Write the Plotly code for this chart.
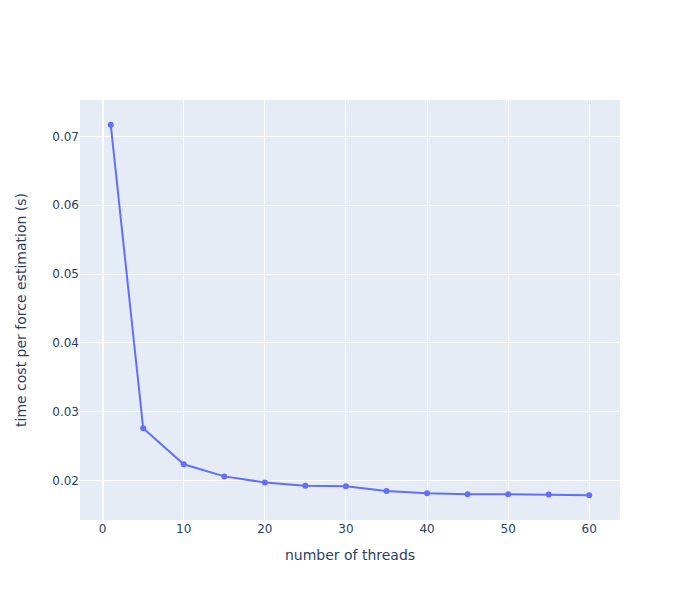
import plotly.graph_objects as go

# threads vs time per force estimation
threads = [1, 5, 10, 15, 20, 25, 30, 35, 40, 45, 50, 55, 60]
time_cost = [0.0717, 0.0276, 0.02238, 0.02062, 0.01974, 0.01927, 0.01917, 0.01849,
             0.01816, 0.01801, 0.01801, 0.01799, 0.01788]

fig = go.Figure(go.Scatter(
    x=threads,
    y=time_cost,
    mode="lines+markers",
))

# page body adds 8px, so shift margins to keep plot area where the reference has it
fig.update_layout(
    width=700,
    height=600,
    margin=dict(l=72, r=88, t=92, b=88),
    font=dict(family="DejaVu Sans"),
    xaxis_title="number of threads",
    yaxis=dict(title=dict(text="time cost per force estimation (s)", standoff=22)),
)

fig.write_html("out.html")
